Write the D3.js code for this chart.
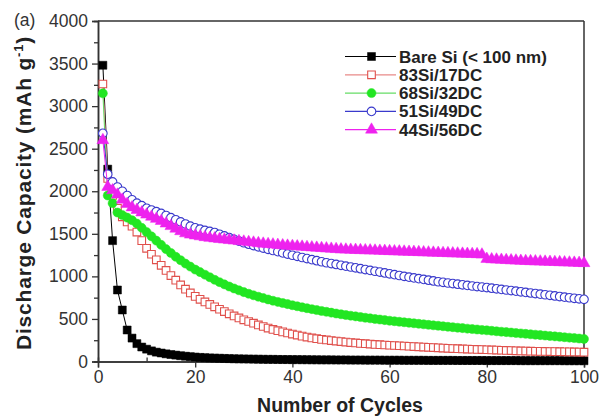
<!DOCTYPE html>
<html><head><meta charset="utf-8">
<script src="https://cdn.jsdelivr.net/npm/d3@7"></script>
<style>body{margin:0;background:#fff}svg{display:block}text{font-family:Arial,"Liberation Sans",sans-serif}</style>
</head><body><svg id="c" width="600" height="418"></svg>
<script>
const seriesNames = ["Bare Si (< 100 nm)","83Si/17DC","68Si/32DC","51Si/49DC","44Si/56DC"];
const xTicks = [0,20,40,60,80,100];
const yTicks = [0,500,1000,1500,2000,2500,3000,3500,4000];
const bareSi = [3480,2260,1420,840,605,370,275,210,170,145,125,110,100,90,82,75,68,62,57,52,48,45,42,40,38,36,34,32,31,30,29,28,27,26,25,25,24,23,23,22,22,21,21,20,20,19,19,19,18,18,18,17,17,17,16,16,16,16,15,15,15,15,14,14,14,14,14,13,13,13,13,13,13,12,12,12,12,12,12,11,11,11,11,11,11,11,10,10,10,10,10,10,10,10,10,9,9,9,9,9];
const si83 = [3260,2150,1950,1800,1700,1640,1590,1520,1420,1330,1260,1195,1130,1070,1010,955,900,850,805,765,730,700,670,642,614,586,560,535,512,490,470,450,430,411,393,377,362,348,335,322,310,298,287,277,268,260,253,246,240,234,228,223,218,213,209,205,201,197,194,191,188,185,182,179,176,173,170,167,164,161,158,155,152,150,148,146,144,142,140,138,136,134,132,130,128,126,124,122,121,120,119,118,117,116,115,114,113,112,111,110];
const si68 = [3150,1950,1860,1750,1720,1690,1660,1620,1570,1520,1470,1420,1370,1320,1275,1230,1190,1150,1115,1080,1050,1020,990,960,932,906,881,858,836,815,796,778,761,745,729,714,700,687,674,661,649,637,626,615,604,594,584,574,564,555,546,538,530,522,514,507,500,493,486,479,473,467,461,455,449,443,437,431,425,420,414,408,403,397,392,386,381,376,371,366,361,355,350,345,340,335,330,325,320,315,310,305,300,295,290,285,280,275,270,265];
const si51 = [2680,2200,2110,2050,2000,1950,1900,1860,1830,1800,1780,1760,1740,1715,1690,1665,1640,1615,1590,1570,1555,1540,1528,1515,1495,1475,1455,1435,1415,1395,1378,1362,1347,1332,1318,1304,1290,1276,1262,1248,1235,1222,1209,1196,1184,1172,1160,1150,1140,1130,1120,1110,1100,1090,1080,1070,1060,1050,1040,1030,1020,1010,1000,991,982,973,964,955,946,937,930,922,915,908,901,894,887,880,874,868,861,854,847,840,833,826,819,812,805,798,791,784,777,770,763,756,749,742,736,730];
const si44 = [2600,2050,2010,1960,1900,1850,1810,1780,1750,1725,1700,1675,1650,1620,1590,1560,1530,1505,1490,1480,1470,1460,1452,1445,1438,1432,1426,1420,1414,1408,1402,1396,1390,1384,1379,1374,1369,1364,1360,1356,1352,1348,1344,1340,1336,1332,1328,1324,1320,1316,1314,1312,1310,1308,1306,1304,1302,1300,1298,1296,1294,1292,1290,1288,1286,1284,1282,1280,1278,1276,1274,1272,1270,1268,1266,1264,1262,1260,1256,1205,1200,1197,1194,1191,1188,1185,1182,1180,1178,1176,1174,1172,1170,1168,1166,1164,1162,1160,1158,1155];
const seriesData = [bareSi, si83, si68, si51, si44];
const colors = ["#000000","#e0504c","#22e622","#3a3acc","#ee22ee"];
const lineColors = ["#000000","#e88a88","#66dd66","#3a3acc","#ee22ee"];
const symbols = [d3.symbolSquare, d3.symbolSquare, d3.symbolCircle, d3.symbolCircle, d3.symbolTriangle];
const filled = [true,false,true,false,true];

const svg = d3.select("#c");
const L=98, R=584, T=21, B=361.5;
const x = d3.scaleLinear().domain([0,100]).range([L,R]);
const y = d3.scaleLinear().domain([0,4000]).range([B,T]);

svg.append("line").attr("x1",L).attr("x2",R).attr("y1",T).attr("y2",T).attr("stroke","#333").attr("stroke-width",1.5);
svg.append("line").attr("x1",R).attr("x2",R).attr("y1",T).attr("y2",B).attr("stroke","#333").attr("stroke-width",1.5);

const xAxis = svg.append("g").attr("transform",`translate(0,${B})`)
  .call(d3.axisBottom(x).tickValues(xTicks).tickSize(6).tickPadding(3).tickFormat(d3.format("d")));
const xMinor = svg.append("g").attr("transform",`translate(0,${B})`)
  .call(d3.axisBottom(x).tickValues([10,30,50,70,90]).tickSize(-4).tickFormat(""));
const yAxis = svg.append("g").attr("transform",`translate(${L},0)`)
  .call(d3.axisLeft(y).tickValues(yTicks).tickSize(6).tickPadding(4).tickFormat(d3.format("d")));
const yMinor = svg.append("g").attr("transform",`translate(${L},0)`)
  .call(d3.axisLeft(y).tickValues(d3.range(250,4000,500)).tickSize(4).tickFormat(""));
[xAxis,xMinor,yAxis,yMinor].forEach(g=>{
  g.select(".domain").attr("stroke","#333").attr("stroke-width",1.5);
  g.selectAll(".tick line").attr("stroke","#333").attr("stroke-width",1.3);
  g.selectAll("text").attr("font-size",17.5).attr("fill","#333").attr("font-family","Arial, Liberation Sans, sans-serif");
});

const symSize = [64,58,64,58,62];
seriesData.forEach((vals,i)=>{
  const pts = vals.map((v,k)=>[k+1,v]);
  svg.append("path").datum(pts)
    .attr("d",d3.line().x(d=>x(d[0])).y(d=>y(d[1])))
    .attr("fill","none").attr("stroke",lineColors[i]).attr("stroke-width",1);
  svg.append("g").selectAll("path").data(pts).join("path")
    .attr("transform",d=>`translate(${x(d[0])},${y(d[1])})`)
    .attr("d",d3.symbol().type(symbols[i]).size(symSize[i]))
    .attr("fill",filled[i]?colors[i]:"#fff")
    .attr("stroke",colors[i]).attr("stroke-width",filled[i]?0.5:1.1);
});

const lg = svg.append("g");
seriesNames.forEach((name,i)=>{
  const cy = 56.5 + i*18.3;
  lg.append("line").attr("x1",345).attr("x2",396).attr("y1",cy).attr("y2",cy).attr("stroke",lineColors[i]).attr("stroke-width",1.2);
  lg.append("path").attr("transform",`translate(371.5,${cy})`)
    .attr("d",d3.symbol().type(symbols[i]).size(symSize[i]))
    .attr("fill",filled[i]?colors[i]:"#fff").attr("stroke",colors[i]).attr("stroke-width",filled[i]?0.5:1.1);
  lg.append("text").attr("x",399).attr("y",cy+6).attr("font-size",17).attr("font-weight","bold").attr("fill","#222").text(name);
});

svg.append("text").attr("x",14).attr("y",26).attr("font-size",17.5).attr("fill","#333").text("(a)");
svg.append("text").attr("x",340).attr("y",412).attr("text-anchor","middle").attr("font-size",19.5).attr("font-weight","bold").attr("fill","#222").text("Number of Cycles");
const yt = svg.append("text").attr("transform","translate(31,193) rotate(-90)").attr("text-anchor","middle")
  .attr("font-size",21).attr("font-weight","bold").attr("letter-spacing",0.8).attr("fill","#222");
yt.append("tspan").text("Discharge Capacity (mAh g");
yt.append("tspan").attr("dy",-8).attr("font-size",13).text("-1");
yt.append("tspan").attr("dy",8).text(")");
</script></body></html>
